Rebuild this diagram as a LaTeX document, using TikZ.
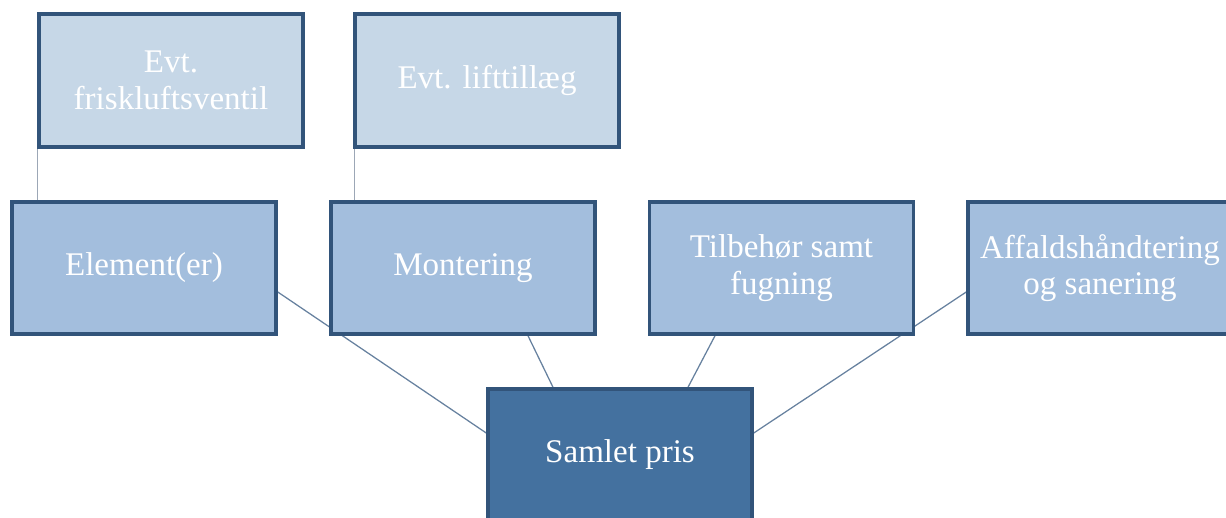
\documentclass[tikz,border=0pt]{standalone}
\usepackage{fontspec}
\setmainfont{Liberation Serif}
\usepackage{xcolor,tikz}
\usetikzlibrary{calc,positioning,backgrounds}
\tikzset{>=stealth}
\definecolor{boxline}{HTML}{32547A}
\definecolor{topfill}{HTML}{C6D7E7}
\definecolor{midfill}{HTML}{A3BEDD}
\definecolor{sumfill}{HTML}{44719F}
\definecolor{linkline}{HTML}{67819F}
\definecolor{toplink}{HTML}{9CA7B6}
\tikzset{
  pricebox/.style={draw=boxline, line width=2.5pt, text=white, align=center,
    minimum width=6.6cm, minimum height=3.3cm, inner sep=0pt,
    font=\fontsize{23.5}{26}\selectfont},
  topbox/.style={pricebox, fill=topfill, minimum height=3.325cm},
  midbox/.style={pricebox, fill=midfill},
  sumbox/.style={pricebox, fill=sumfill},
  link/.style={draw=linkline, line width=0.9pt},
  toplinkline/.style={draw=toplink, line width=1pt}
}

\begin{document}
\begin{tikzpicture}
        \useasboundingbox (0,0) rectangle (30.65,12.925);
        \clip (0,0) rectangle (30.65,12.925);
        %%%% options
        \node[topbox] (friskluft) at (4.275,10.9125) {Evt.\\ friskluftsventil};
        \node[topbox] (lift) at (12.175,10.9125) {Evt. lifttillæg};
        %%%% parts of the price
        \node[midbox] (element) at (3.6,6.225) {Element(er)};
        \node[midbox] (montering) at (11.575,6.225) {Montering};
        \node[midbox] (tilbehor) at (19.5375,6.225) {Tilbehør samt\\ fugning};
        \node[midbox] (affald) at (27.5,6.225) {Affaldshåndtering\\ og sanering};
        %%%% total
        \node[sumbox] (samlet) at (15.5,1.55) {Samlet pris};
        %%%%
        \begin{pgfonlayer}{background}
        \draw[toplinkline] (friskluft.south west) -- (friskluft.south west |- element.north);
        \draw[toplinkline] ([xshift=0.025cm]lift.south west) -- ([xshift=0.025cm]lift.south west |- montering.north);
        \draw[link] ([yshift=-0.6cm]element.east) -- ([yshift=0.55cm]samlet.west);
        \draw[link] ([xshift=1.625cm]montering.south) -- ([xshift=-1.675cm]samlet.north);
        \draw[link] ([xshift=-1.6625cm]tilbehor.south) -- ([xshift=1.7cm]samlet.north);
        \draw[link] ([yshift=-0.6cm]affald.west) -- ([yshift=0.55cm]samlet.east);
        \end{pgfonlayer}
    \end{tikzpicture}
\end{document}
